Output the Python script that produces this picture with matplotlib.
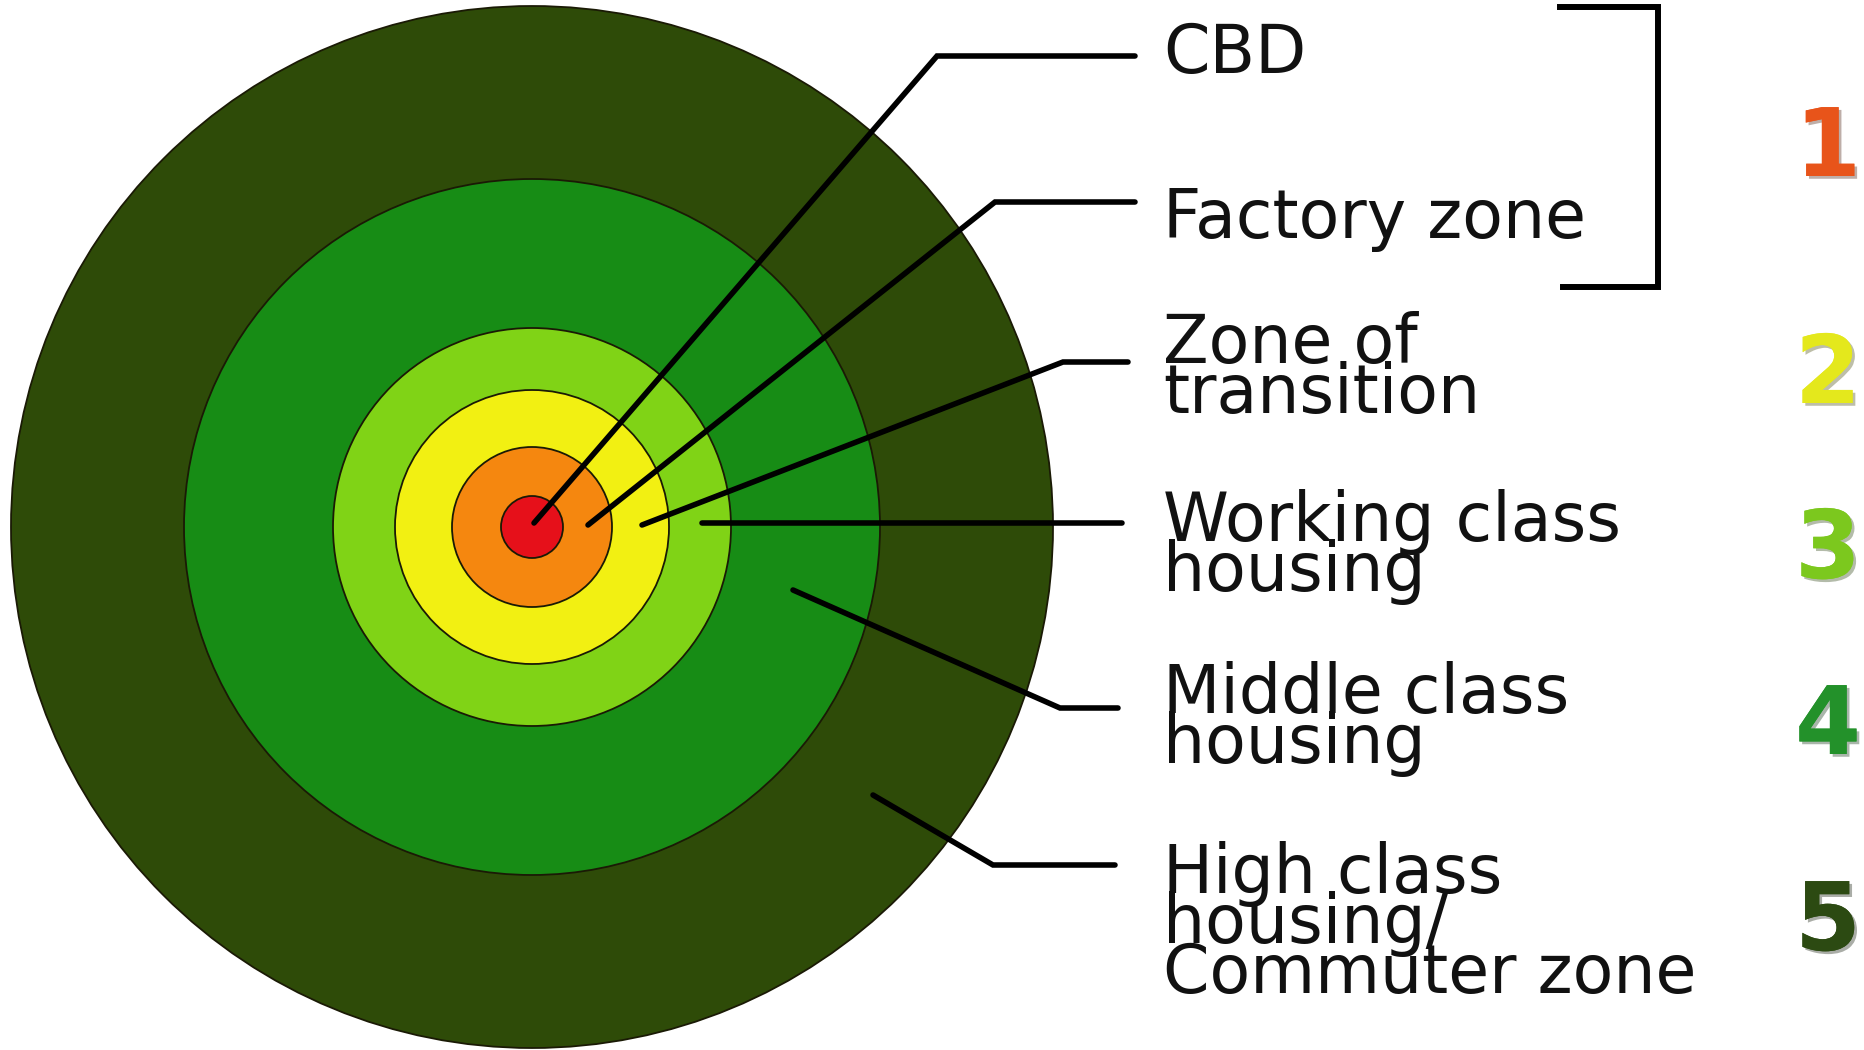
import matplotlib
matplotlib.use("Agg")
import matplotlib.pyplot as plt
from matplotlib.patches import Circle
import matplotlib.patheffects as pe

# zones from outside to inside (radius in px of the 1864x1050 picture)
zone_names = ["High class housing/Commuter zone", "Middle class housing",
              "Working class housing", "Zone of transition",
              "Factory zone", "CBD"]
zone_radius = [521, 348, 199, 137, 80, 31]
zone_colors = ["#2e4b08", "#178c15", "#80d316", "#f2f012", "#f5870f", "#e6101a"]
centre = (532, 527)

# label lines, top to bottom
label_lines = [["CBD"], ["Factory zone"], ["Zone of", "transition"],
               ["Working class", "housing"], ["Middle class", "housing"],
               ["High class", "housing/", "Commuter zone"]]
label_base = [73, 238, 363, 541, 713, 893]

# leader lines: point in the zone -> kink -> end at the text
leaders = [[(534, 523), (937, 56), (1135, 56)],
           [(588, 525), (995, 202), (1135, 202)],
           [(642, 525), (1063, 362), (1128, 362)],
           [(702, 523), (1122, 523)],
           [(793, 590), (1060, 708), (1118, 708)],
           [(873, 795), (993, 865), (1115, 865)]]

numbers = ["1", "2", "3", "4", "5"]
number_colors = ["#e8541a", "#e4e81c", "#7cc81e", "#23912a", "#2c4a12"]
number_y = [150, 377, 552, 728, 924]

fig = plt.figure(figsize=(18.64, 10.5), dpi=100)
ax = fig.add_axes([0, 0, 1, 1])
ax.set_xlim(0, 1864)
ax.set_ylim(1050, 0)
ax.axis("off")

for r, c in zip(zone_radius, zone_colors):
    ax.add_patch(Circle(centre, r, facecolor=c, edgecolor="#1a1a05", lw=1.3))

for pts in leaders:
    xs = [p[0] for p in pts]
    ys = [p[1] for p in pts]
    ax.plot(xs, ys, color="black", lw=4.0, solid_capstyle="round",
            solid_joinstyle="miter")

for lines, y0 in zip(label_lines, label_base):
    for i, line in enumerate(lines):
        ax.text(1163, y0 + i * 50, line, fontsize=48, color="#111111",
                family="DejaVu Sans", va="baseline", ha="left")

# bracket round CBD + factory zone
ax.plot([1560, 1658, 1658, 1563], [7, 7, 287, 287], color="black", lw=4.3,
        solid_joinstyle="miter")

for n, c, y in zip(numbers, number_colors, number_y):
    ax.text(1828, y, n, fontsize=68, fontweight="bold", color=c,
            ha="center", va="center", family="DejaVu Sans",
            path_effects=[pe.withSimplePatchShadow(offset=(2, -2), alpha=0.35),
                          pe.Normal()])

fig.savefig("out.png", dpi=100)
